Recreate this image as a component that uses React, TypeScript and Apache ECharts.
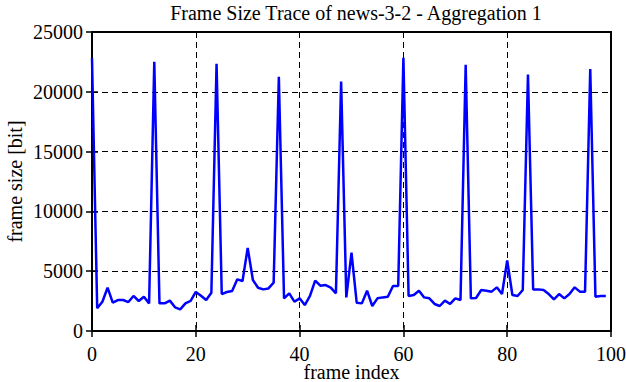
import React, { useEffect, useRef } from "react";
import * as echarts from "echarts";

const titleText = "Frame Size Trace of news-3-2 - Aggregation 1";
const xAxisName = "frame index";
const yAxisName = "frame size [bit]";

const frameSizes: number[] = [
  22800, 1900, 2450, 3620, 2370, 2590, 2590, 2420, 2930, 2510,
  2870, 2310, 22500, 2310, 2310, 2540, 1980, 1810, 2310, 2510,
  3270, 2950, 2590, 3200, 22350, 3090, 3260, 3340, 4320, 4180,
  6950, 4260, 3620, 3480, 3560, 4040, 21250, 2730, 3150, 2450,
  2730, 2170, 2930, 4210, 3790, 3840, 3620, 3150, 20850, 2810,
  6550, 2370, 2310, 3370, 2090, 2730, 2810, 2870, 3760, 3760,
  22850, 2930, 3010, 3370, 2810, 2730, 2260, 2090, 2540, 2260,
  2730, 2590, 22250, 2730, 2760, 3430, 3370, 3290, 3650, 3090,
  5900, 3010, 2930, 3430, 21450, 3480, 3480, 3430, 3090, 2650,
  3090, 2730, 3090, 3650, 3290, 3290, 21900, 2870, 2930, 2930,
];

const xMin = 0;
const xMax = 100;
const xStep = 20;
const yMin = 0;
const yMax = 25000;
const yStep = 5000;

const FONT = "Liberation Serif";

export default function App() {
  const ref = useRef<HTMLDivElement>(null);
  useEffect(() => {
    if (!ref.current) return;
    const chart = echarts.init(ref.current, undefined, { renderer: "svg" });
    const seriesData = frameSizes.map((v, i) => [i, v]);
    const tickStyle = { show: true, inside: true, length: 6, lineStyle: { color: "#000", width: 1.5 } };
    const gridLine = { show: true, lineStyle: { color: "#000", type: [6, 4], width: 1 } };
    const plain = (v: number) => String(v);
    chart.setOption({
      animation: false,
      backgroundColor: "#fff",
      title: {
        text: titleText,
        left: 351,
        top: -2,
        textAlign: "center",
        textStyle: { fontFamily: FONT, fontSize: 20, fontWeight: "normal", color: "#000" },
      },
      grid: {
        left: 92,
        right: 15,
        top: 32,
        bottom: 51,
        containLabel: false,
        outerBoundsMode: "none",
        show: true,
        borderColor: "#000",
        borderWidth: 2,
        backgroundColor: "transparent",
      },
      xAxis: [
        {
          type: "value",
          min: xMin,
          max: xMax,
          interval: xStep,
          position: "bottom",
          name: xAxisName,
          nameLocation: "middle",
          nameMoveOverlap: false,
          nameGap: 32,
          nameTextStyle: { fontFamily: FONT, fontSize: 20, lineHeight: 17, color: "#000" },
          axisLine: { show: true, lineStyle: { color: "#000", width: 2 } },
          axisTick: tickStyle,
          axisLabel: { fontFamily: FONT, fontSize: 20, color: "#000", margin: 13, formatter: plain },
          splitLine: gridLine,
        },
        {
          type: "value",
          min: xMin,
          max: xMax,
          interval: xStep,
          position: "top",
          axisLine: { show: false },
          axisTick: tickStyle,
          axisLabel: { show: false },
          splitLine: { show: false },
        },
      ],
      yAxis: [
        {
          type: "value",
          min: yMin,
          max: yMax,
          interval: yStep,
          position: "left",
          name: yAxisName,
          nameLocation: "middle",
          nameMoveOverlap: false,
          nameGap: 67,
          nameTextStyle: { fontFamily: FONT, fontSize: 20, color: "#000" },
          axisLine: { show: true, lineStyle: { color: "#000", width: 2 } },
          axisTick: tickStyle,
          axisLabel: { fontFamily: FONT, fontSize: 20, color: "#000", margin: 9, formatter: plain },
          splitLine: gridLine,
        },
        {
          type: "value",
          min: yMin,
          max: yMax,
          interval: yStep,
          position: "right",
          axisLine: { show: false },
          axisTick: tickStyle,
          axisLabel: { show: false },
          splitLine: { show: false },
        },
      ],
      series: [
        {
          type: "line",
          xAxisIndex: 0,
          yAxisIndex: 0,
          data: seriesData,
          showSymbol: false,
          symbol: "none",
          lineStyle: { color: "#0000ff", width: 2.5 },
          z: 3,
        },
      ],
    });
    return () => chart.dispose();
  }, []);
  return <div ref={ref} style={{ width: 626, height: 382, position: "absolute", left: 0, top: 0 }} />;
}
